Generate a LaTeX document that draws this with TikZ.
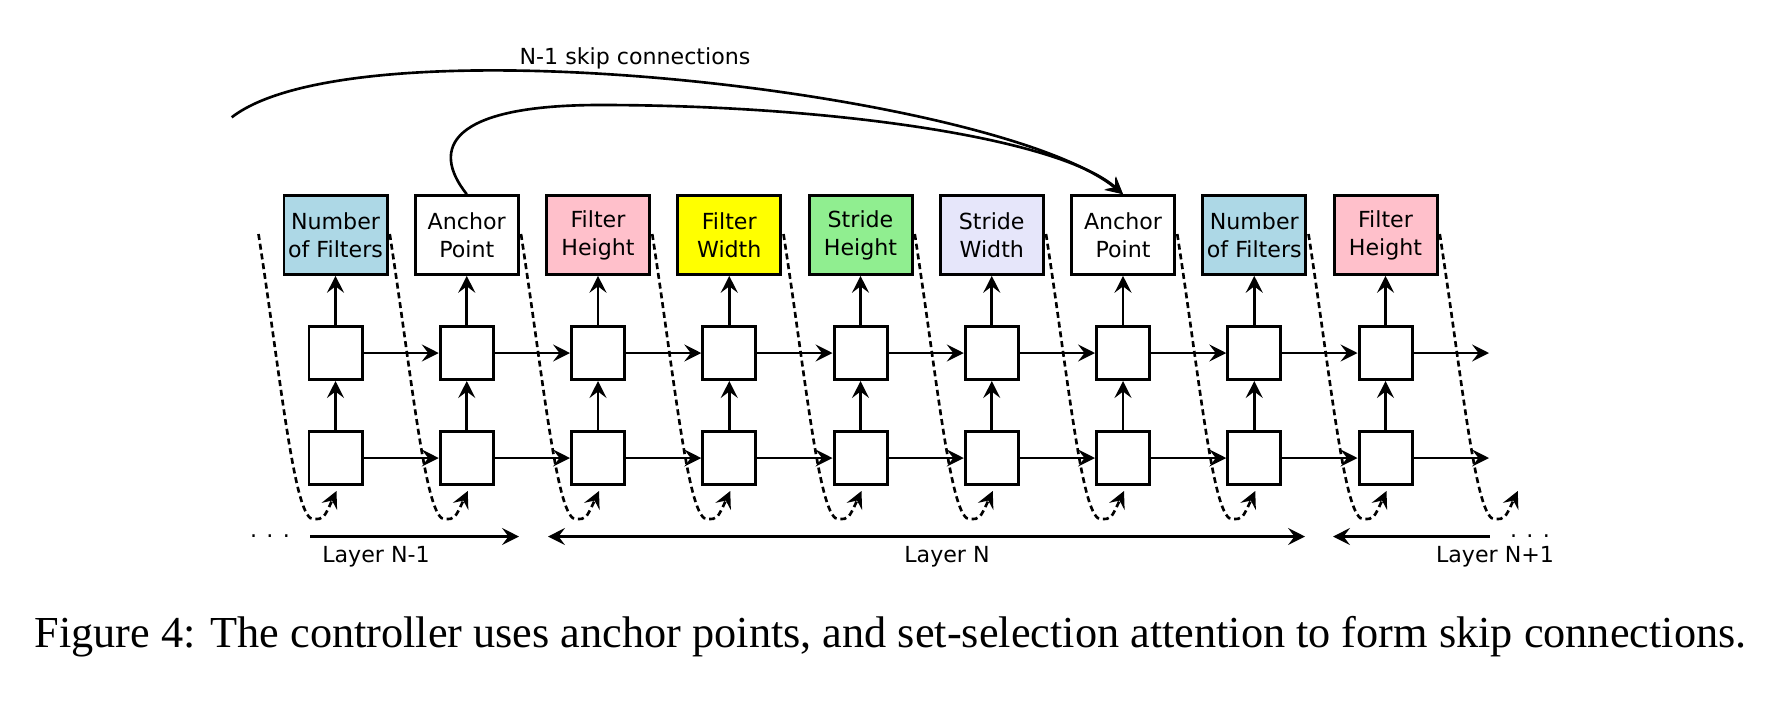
\documentclass[tikz,border=0pt]{standalone}
\usepackage{fontspec}
\setmainfont{DejaVu Sans}
\newfontfamily\capfont{Liberation Serif}
\usetikzlibrary{arrows.meta}

\definecolor{nfblue}{RGB}{173,216,230}
\definecolor{fhpink}{RGB}{255,192,203}
\definecolor{fwyellow}{RGB}{255,255,0}
\definecolor{shgreen}{RGB}{144,238,144}
\definecolor{swlavender}{RGB}{230,230,250}

\begin{document}
\begin{tikzpicture}[>={Stealth[length=4.8pt,width=4.8pt,inset=1.8pt]}, line width=0.75pt,
		every node/.style={font=\fontsize{6.3}{8}\selectfont},
		param/.style={draw, line width=0.85pt, minimum width=1.03cm, minimum height=0.786cm, align=center, inner sep=1pt},
		cell/.style={draw, line width=0.85pt, minimum size=0.53cm, inner sep=0pt},
		loopback/.style={->, dash pattern=on 1.7pt off 1.1pt}]
		\useasboundingbox (0,0) rectangle (17.82,7.03);

		% predicted parameters and the two LSTM rows
		\foreach \i/\txt/\col in {0/{Number\\of Filters}/nfblue, 1/{Anchor\\Point}/white, 2/{Filter\\Height}/fhpink,
				3/{Filter\\Width}/fwyellow, 4/{Stride\\Height}/shgreen, 5/{Stride\\Width}/swlavender,
				6/{Anchor\\Point}/white, 7/{Number\\of Filters}/nfblue, 8/{Filter\\Height}/fhpink}{
			\pgfmathsetmacro\cx{3.355+1.3125*\i}
			\node[param, fill=\col] (out\i) at (\cx, 4.68) {\txt};
			\node[cell] (h\i) at (\cx, 3.50) {};
			\node[cell] (l\i) at (\cx, 2.45) {};
			\draw[->] (l\i) -- (h\i);
			\draw[->] (h\i) -- (out\i);
		}

		\foreach \i [evaluate=\i as \j using int(\i+1)] in {0,...,7}{
			\draw[->] (h\i) -- (h\j);
			\draw[->] (l\i) -- (l\j);
		}
		\coordinate (hend) at (14.89, 3.50);
		\coordinate (lend) at (14.89, 2.45);
		\draw[->] (h8) -- (hend);
		\draw[->] (l8) -- (lend);

		% output fed back as next input
		\foreach \j in {0,...,9}{
			\pgfmathsetmacro\cx{3.355+1.3125*\j}
			\coordinate (ds\j) at (\cx-0.77, 4.69);
			\coordinate (dt\j) at (\cx+0.01, 2.12);
			\draw[loopback] (ds\j) .. controls (\cx-0.54, 3.2) and (\cx-0.41, 1.80) .. (\cx-0.215, 1.84)
				.. controls (\cx-0.12, 1.84) .. (dt\j);
		}

		% skip connections
		\coordinate (skipL) at (2.317, 5.857);
		\draw[->] (skipL) .. controls (3.6, 6.85) and (10.0, 6.1) .. (out6.north);
		\draw[->] (out1.north) .. controls (4.30, 5.55) and (4.50, 5.98) .. (6.0, 5.98)
			.. controls (8.3, 5.98) and (10.6, 5.65) .. (out6.north);
		\node (skiplbl) at (6.35, 6.45) {N-1 skip connections};

		% layers
		\coordinate (n1a) at (3.10, 1.665);
		\coordinate (n1b) at (5.19, 1.665);
		\coordinate (na) at (5.48, 1.665);
		\coordinate (nb) at (13.05, 1.665);
		\coordinate (n2a) at (13.33, 1.665);
		\coordinate (n2b) at (14.90, 1.665);
		\draw[->] (n1a) -- (n1b);
		\draw[<->] (na) -- (nb);
		\draw[<-] (n2a) -- (n2b);
		\node[anchor=base] (dotsL) at (2.70, 1.655) {. . .};
		\node[anchor=base] (dotsR) at (15.30, 1.655) {. . .};
		\node (lyr1) at (3.76, 1.46) {Layer N-1};
		\node (lyr2) at (9.47, 1.46) {Layer N};
		\node (lyr3) at (14.95, 1.46) {Layer N+1};

		\node[font=\capfont\fontsize{12.6}{15}\selectfont, anchor=base] (caption) at (8.905, 0.56)
			{Figure 4: The controller uses anchor points, and set-selection attention to form skip connections.};
\end{tikzpicture}
\end{document}
